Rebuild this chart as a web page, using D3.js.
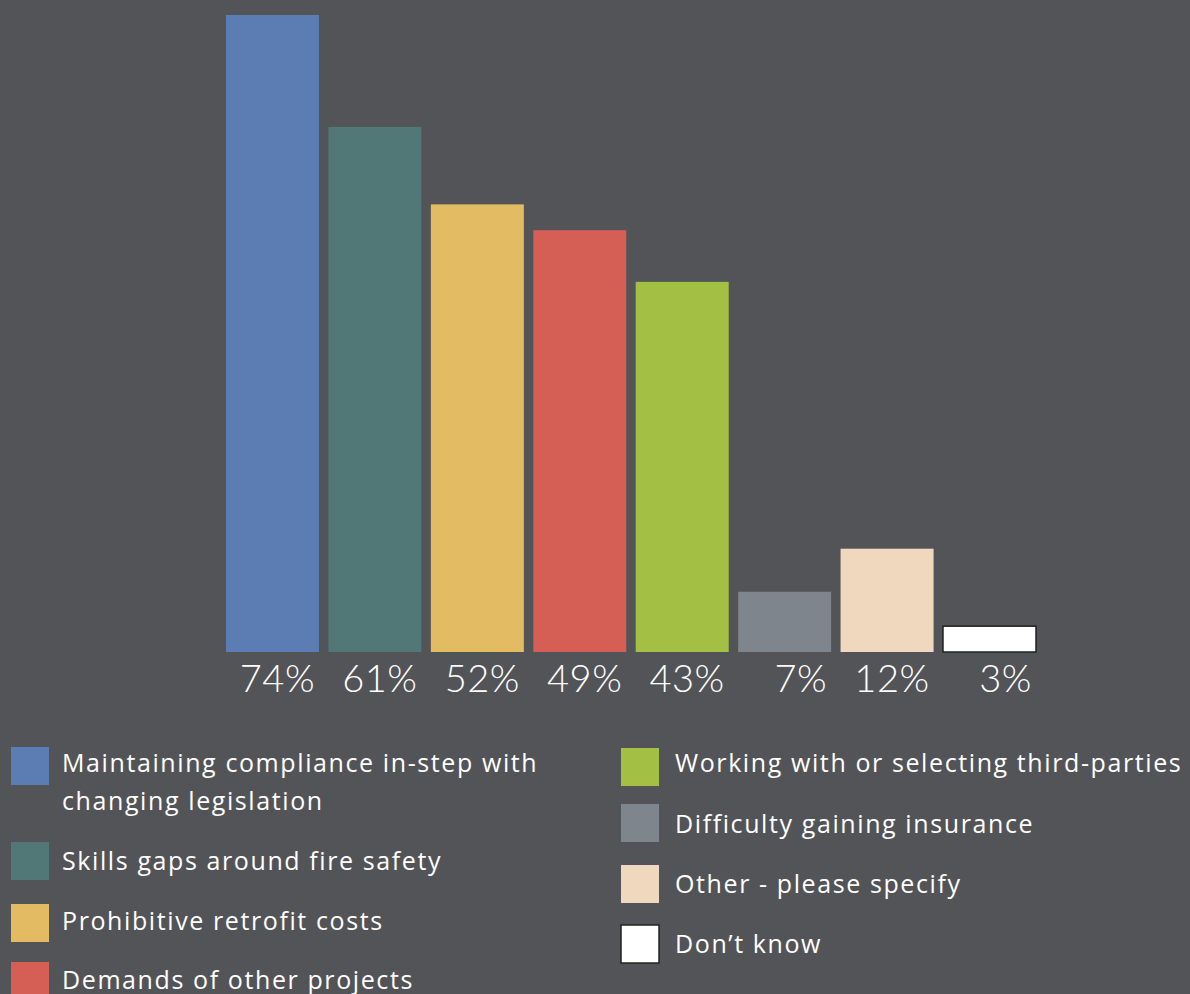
<!DOCTYPE html>
<html>
<head>
<meta charset="utf-8">
<script src="https://cdn.jsdelivr.net/npm/d3@7.9.0/dist/d3.min.js"></script>
<style>
  html, body { margin: 0; padding: 0; background: #535458; }
  svg { display: block; }
  text { font-family: "Lato", "Open Sans", sans-serif; fill: #ffffff; font-variant-ligatures: none; }
  .legend text { font-family: "Open Sans", sans-serif; letter-spacing: 1.6px; }
</style>
</head>
<body>
<svg id="chart" width="1190" height="994"></svg>
<script>
const categories = [
  'Maintaining compliance in-step with changing legislation',
  'Skills gaps around fire safety',
  'Prohibitive retrofit costs',
  'Demands of other projects',
  'Working with or selecting third-parties',
  'Difficulty gaining insurance',
  'Other - please specify',
  'Don\u2019t know'
];
const values = [74, 61, 52, 49, 43, 7, 12, 3];
const valueLabels = ['74%', '61%', '52%', '49%', '43%', '7%', '12%', '3%'];
const legendLines = [
  ['Maintaining compliance in-step with', 'changing legislation'],
  ['Skills gaps around fire safety'],
  ['Prohibitive retrofit costs'],
  ['Demands of other projects'],
  ['Working with or selecting third-parties'],
  ['Difficulty gaining insurance'],
  ['Other - please specify'],
  ['Don\u2019t know']
];
const colors = ['#5c7db3', '#517877', '#e2bb62', '#d55e55', '#a3bf44', '#7f858c', '#efd8bd', '#ffffff'];

const svg = d3.select('#chart');

// bars
let x = d3.scaleBand().domain(categories).range([226, 1036]).paddingInner(0.092).paddingOuter(0);
let y = d3.scaleLinear().domain([0, 74]).range([652, 15]);
let color = d3.scaleOrdinal().domain(categories).range(colors);

svg.append('g')
  .selectAll('rect')
  .data(categories)
  .join('rect')
  .attr('x', d => x(d))
  .attr('y', (d, i) => y(values[i]))
  .attr('width', x.bandwidth())
  .attr('height', (d, i) => y(0) - y(values[i]))
  .attr('fill', d => color(d))
  .attr('stroke', (d, i) => i === 7 ? '#222' : 'none')
  .attr('stroke-width', 1.5);

// value labels under the bars
svg.append('g')
  .selectAll('text')
  .data(categories)
  .join('text')
  .attr('x', d => x(d) + x.bandwidth() - 4)
  .attr('y', 692)
  .attr('text-anchor', 'end')
  .style('font-size', '38px')
  .style('font-weight', 300)
  .style('letter-spacing', '0.5px')
  .text((d, i) => valueLabels[i]);

// legend
const legendPos = [
  { x: 11, tx: 62, sq: 747, base: 772 },
  { x: 11, tx: 62, sq: 842, base: 870 },
  { x: 11, tx: 62, sq: 904, base: 930 },
  { x: 11, tx: 62, sq: 962, base: 989 },
  { x: 621, tx: 675, sq: 748, base: 772 },
  { x: 621, tx: 675, sq: 804, base: 833 },
  { x: 621, tx: 675, sq: 865, base: 893 },
  { x: 621, tx: 675, sq: 925, base: 953 }
];

let legend = svg.append('g').attr('class', 'legend');
categories.forEach((c, i) => {
  let p = legendPos[i];
  legend.append('rect')
    .attr('x', p.x)
    .attr('y', p.sq)
    .attr('width', 38)
    .attr('height', 38)
    .attr('fill', color(c))
    .attr('stroke', i === 7 ? '#222' : 'none')
    .attr('stroke-width', 1.5);
  let t = legend.append('text')
    .attr('x', p.tx)
    .attr('y', p.base)
    .style('font-size', '25px');
  legendLines[i].forEach((line, j) => {
    t.append('tspan')
      .attr('x', p.tx)
      .attr('dy', j === 0 ? 0 : 38)
      .text(line);
  });
});
</script>
</body>
</html>
